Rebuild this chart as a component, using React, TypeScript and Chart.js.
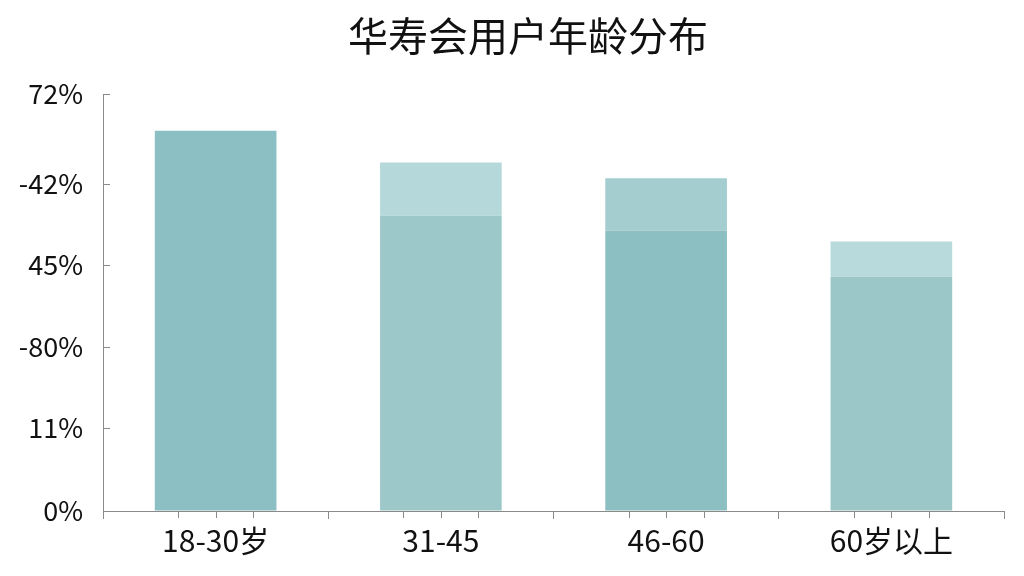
import React, { useEffect, useRef } from 'react';
import { Chart, registerables } from 'chart.js';

Chart.register(...registerables);

const chartTitle = '华寿会用户年龄分布';
const categories = ['18-30岁', '31-45', '46-60', '60岁以上'];
const lowerValues = [4.56, 3.54, 3.36, 2.81];
const upperValues = [0, 0.64, 0.63, 0.42];
const lowerColors = ['#8bbfc3', '#9dc8c9', '#8bbfc2', '#9cc7c8'];
const upperColors = ['#b5d9da', '#b5d9da', '#a3cdcf', '#b8dadc'];
const yTickValues = [0, 1, 1.97, 2.95, 3.92, 5];
const yTickLabels = ['0%', '11%', '-80%', '45%', '-42%', '72%'];
const minorTickOffsets = [-1 / 6, 0, 1 / 6];

const FONT = '"Noto Sans CJK SC", "Noto Sans", sans-serif';
const AXIS_COLOR = '#8a8a8a';

const extraTicks = {
  id: 'extraTicks',
  afterLayout(chart: any) {
    const t = chart.titleBlock;
    if (t) {
      const w = t.right - t.left;
      const span = chart.chartArea.right - 52;
      t.left = 52 + (span - w) / 2;
      t.right = t.left + w;
    }
  },
  afterDraw(chart: any) {
    const { ctx, chartArea, scales } = chart;
    const y = scales.y;
    const x = scales.x;
    ctx.save();
    ctx.strokeStyle = AXIS_COLOR;
    ctx.lineWidth = 1;
    y.ticks.forEach((t: any) => {
      const py = Math.round(y.getPixelForValue(t.value)) + 0.5;
      ctx.beginPath();
      ctx.moveTo(chartArea.left, py);
      ctx.lineTo(chartArea.left + 7, py);
      ctx.stroke();
    });
    categories.forEach((_, i) => {
      minorTickOffsets.forEach((o) => {
        const px = Math.round(x.getPixelForValue(i + o)) + 0.5;
        ctx.beginPath();
        ctx.moveTo(px, chartArea.bottom);
        ctx.lineTo(px, chartArea.bottom + 7);
        ctx.stroke();
      });
    });
    ctx.restore();
  },
};

export default function App() {
  const ref = useRef<HTMLCanvasElement | null>(null);

  useEffect(() => {
    if (!ref.current) return;
    Chart.defaults.font.family = FONT;
    const chart = new Chart(ref.current, {
      type: 'bar',
      data: {
        labels: categories,
        datasets: [
          {
            label: 'lower',
            data: lowerValues,
            backgroundColor: lowerColors,
            barPercentage: 0.54,
            categoryPercentage: 1,
          },
          {
            label: 'upper',
            data: upperValues,
            backgroundColor: upperColors,
            barPercentage: 0.54,
            categoryPercentage: 1,
          },
        ],
      },
      options: {
        animation: false,
        responsive: false,
        devicePixelRatio: 1,
        layout: { padding: { left: 0, right: 20, top: 0, bottom: 0 } },
        plugins: {
          legend: { display: false },
          tooltip: { enabled: false },
          title: {
            display: true,
            text: chartTitle,
            color: '#111',
            font: { size: 40, weight: 'normal', family: FONT },
            padding: { top: 12, bottom: 34 },
          },
        },
        scales: {
          x: {
            stacked: true,
            afterFit: (s: any) => {
              s.height = 65;
            },
            ticks: {
              autoSkip: false,
              maxRotation: 0,
              padding: 4,
              color: '#111',
              font: { size: 30, family: FONT },
            },
            grid: { drawOnChartArea: false, tickLength: 8, color: AXIS_COLOR, offset: true },
            border: { color: AXIS_COLOR },
          },
          y: {
            stacked: true,
            min: 0,
            max: 5,
            afterBuildTicks: (s: any) => {
              s.ticks = yTickValues.map((v) => ({ value: v }));
            },
            afterFit: (s: any) => {
              s.width = 103;
            },
            ticks: {
              padding: 20,
              color: '#111',
              font: { size: 27, family: FONT },
              callback: (_v: any, i: number) => yTickLabels[i],
            },
            grid: { drawOnChartArea: false, drawTicks: false },
            border: { color: AXIS_COLOR },
          },
        },
      } as any,
      plugins: [extraTicks],
    });
    return () => chart.destroy();
  }, []);

  return (
    <div style={{ position: 'fixed', left: 0, top: 0, width: 1024, height: 576, background: '#fff' }}>
      <canvas ref={ref} width={1024} height={576} style={{ width: 1024, height: 576 }} />
    </div>
  );
}
